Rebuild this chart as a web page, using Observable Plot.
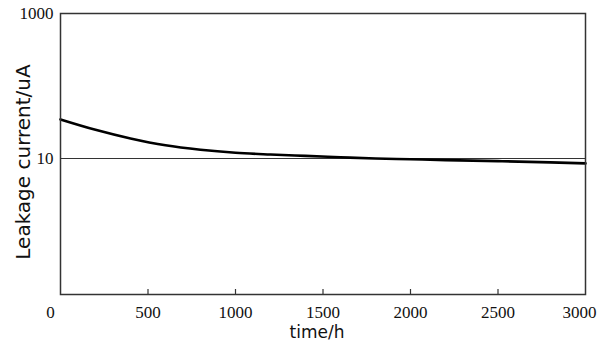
<!DOCTYPE html>
<html>
<head>
<meta charset="utf-8">
<script src="https://cdn.jsdelivr.net/npm/d3@7"></script>
<script src="https://cdn.jsdelivr.net/npm/@observablehq/plot@0.6"></script>
<style>
  body { margin: 0; background: #fff; }
  #chart svg { display: block; }
</style>
</head>
<body>
<div id="chart"></div>
<script>
const times = [0, 200, 400, 600, 800, 1000, 1200, 1400, 1600, 1800, 2000, 2200, 2500, 2800, 3000];
const current = [34.6, 24.9, 18.9, 15.2, 13.2, 12.0, 11.35, 10.85, 10.4, 9.98, 9.75, 9.5, 9.2, 8.85, 8.55];
const referenceLevel = [10];
const xTicks = [500, 1000, 1500, 2000, 2500];
const xEndTick = [3000];
const xZeroTick = [0];
const yTicks = [10, 1000];

const data = times.map((t, i) => ({t, v: current[i]}));
const sans = "DejaVu Sans, sans-serif";
const serif = "Liberation Serif, DejaVu Serif, serif";

const chart = Plot.plot({
  width: 600,
  height: 353,
  marginLeft: 60,
  marginRight: 15,
  marginTop: 13,
  marginBottom: 59,
  style: {background: "#fff", color: "#111"},
  x: {domain: [0, 3000], axis: null},
  y: {type: "log", domain: [0.133, 1000], axis: null},
  marks: [
    Plot.ruleY(referenceLevel, {y: d => d, stroke: "#333", strokeWidth: 1.2}),
    Plot.line(data, {x: "t", y: "v", stroke: "#000", strokeWidth: 2.6, curve: "monotone-x"}),
    Plot.tickX(xTicks, {x: d => d, insetTop: 276, stroke: "#333", strokeWidth: 1.2}),
    Plot.frame({stroke: "#333", strokeWidth: 1.5}),
    Plot.text(yTicks, {y: d => d, text: d => String(d), frameAnchor: "left", dx: -7, textAnchor: "end", lineAnchor: "middle", fontFamily: serif, fontSize: 17, fill: "#111"}),
    Plot.text(xTicks, {x: d => d, text: d => String(d), frameAnchor: "bottom", dy: 18, lineAnchor: "middle", fontFamily: serif, fontSize: 17, fill: "#111"}),
    Plot.text(xZeroTick, {x: d => d, text: d => String(d), frameAnchor: "bottom", dy: 18, dx: -10, lineAnchor: "middle", fontFamily: serif, fontSize: 17, fill: "#111"}),
    Plot.text(xEndTick, {x: d => d, text: d => String(d), frameAnchor: "bottom", dy: 18, dx: -6, lineAnchor: "middle", fontFamily: serif, fontSize: 17, fill: "#111"}),
    Plot.text(["time/h"], {frameAnchor: "bottom", dy: 38, dx: -6, fontSize: 17, fontFamily: sans, fill: "#111", textAnchor: "middle", lineAnchor: "middle"}),
    Plot.text(["Leakage current/uA"], {frameAnchor: "left", dx: -37, dy: 8, rotate: -90, fontSize: 20, fontFamily: sans, fill: "#111", textAnchor: "middle", lineAnchor: "middle"})
  ]
});
document.getElementById("chart").appendChild(chart);
</script>
</body>
</html>
